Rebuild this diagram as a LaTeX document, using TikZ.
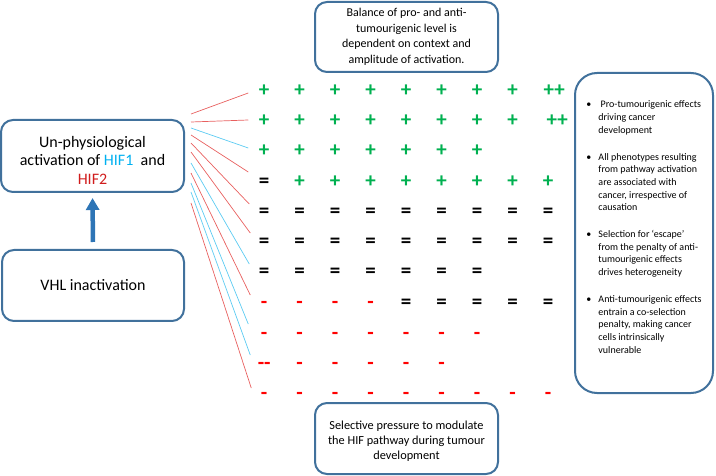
\documentclass[tikz,border=0pt]{standalone}
\usepackage{fontspec}
\setmainfont{Carlito}
\usetikzlibrary{arrows.meta, positioning, calc}

\definecolor{boxblue}{HTML}{41719C}
\definecolor{arrowblue}{HTML}{2E75B6}
\definecolor{plusgreen}{HTML}{00B050}
\definecolor{minusred}{HTML}{FF0000}
\definecolor{hifone}{HTML}{00B0F0}
\definecolor{hiftwo}{HTML}{D01C1C}
\definecolor{linkred}{HTML}{E8605F}
\definecolor{linkblue}{HTML}{5CCBF2}

\newcommand{\symp}{\makebox[35.5pt]{\color{plusgreen}+}}
\newcommand{\sympp}[1]{\makebox[35.5pt]{\hspace{#1}\color{plusgreen}++}}
\newcommand{\syme}{\makebox[35.5pt]{=}}
\newcommand{\symm}{\makebox[35.5pt]{\color{minusred}-}}

\tikzset{
  roundbox/.style={draw=boxblue, line width=2pt, rounded corners=12pt, align=center, inner sep=0pt},
  symrow/.style={anchor=west, inner sep=0pt, font=\fontsize{21}{24}\selectfont\bfseries},
  redlink/.style={draw=linkred, line width=0.7pt},
  bluelink/.style={draw=linkblue, line width=0.7pt},
}

\begin{document}
\begin{tikzpicture}[x=1pt, y=-1pt]
		\useasboundingbox (0,0) rectangle (716,476);
		\draw (92.5,156) node[roundbox, minimum width=183pt, minimum height=72pt, font=\fontsize{16}{18.5}\selectfont] (hif) {\rule{0pt}{20pt}Un-physiological\\ activation of {\color{hifone}HIF1}\ \ and\\ {\color{hiftwo}HIF2}}
		(93,285.5) node[roundbox, minimum width=182pt, minimum height=71pt, font=\fontsize{16}{18}\selectfont] (vhl) {VHL inactivation}
		(406.5,37) node[roundbox, minimum width=183pt, minimum height=70pt, font=\fontsize{12}{15.5}\selectfont] (balance) {Balance of pro- and anti-\\ tumourigenic level is\\ dependent on context and\\ amplitude of activation.}
		(406.5,438.5) node[roundbox, minimum width=183pt, minimum height=71pt, font=\fontsize{12.3}{15}\selectfont] (pressure) {\rule{0pt}{14pt}Selective pressure to modulate\\ the HIF pathway during tumour\\ development}
		(644,233) node[roundbox, rounded corners=22pt, minimum width=138pt, minimum height=320pt, align=left, font=\fontsize{10}{12.7}\selectfont] (effects) {\begin{tabular}{@{}l@{\hspace{7pt}}l@{}}
		\textbullet & \ Pro-tumourigenic effects\\ & driving cancer\\ & development\\[14pt]
		\textbullet & All phenotypes resulting\\ & from pathway activation\\ & are associated with\\ & cancer, irrespective of\\ & causation\\[14pt]
		\textbullet & Selection for `escape'\\ & from the penalty of anti-\\ & tumourigenic effects\\ & drives heterogeneity\\[14pt]
		\textbullet & Anti-tumourigenic effects\\ & entrain a co-selection\\ & penalty, making cancer\\ & cells intrinsically\\ & vulnerable\\[10pt]
		\end{tabular}};

		% rows of effects
		\node[symrow] (r1) at (246.25,92) {\strut\symp\symp\symp\symp\symp\symp\symp\symp\sympp{12pt}};
		\node[symrow] (r2) at (246.25,122) {\strut\symp\symp\symp\symp\symp\symp\symp\symp\sympp{18pt}};
		\node[symrow] (r3) at (246.25,152) {\strut\symp\symp\symp\symp\symp\symp\symp};
		\node[symrow] (r4) at (246.25,183) {\strut\syme\symp\symp\symp\symp\symp\symp\symp\symp};
		\node[symrow] (r5) at (246.25,213) {\strut\syme\syme\syme\syme\syme\syme\syme\syme\syme};
		\node[symrow] (r6) at (246.25,243) {\strut\syme\syme\syme\syme\syme\syme\syme\syme\syme};
		\node[symrow] (r7) at (246.25,273) {\strut\syme\syme\syme\syme\syme\syme\syme};
		\node[symrow] (r8) at (246.25,304) {\strut\symm\symm\symm\symm\syme\syme\syme\syme\syme};
		\node[symrow] (r9) at (246.25,335) {\strut\symm\symm\symm\symm\symm\symm\symm};
		\node[symrow] (r10) at (246.25,365) {\strut\makebox[35.5pt]{\color{minusred}-{}-}\symm\symm\symm\symm\symm};
		\node[symrow] (r11) at (246.25,395) {\strut\symm\symm\symm\symm\symm\symm\symm\symm\symm};

		\draw[-{Triangle[width=13pt,length=12pt]}, arrowblue, line width=4.5pt, shorten <=7pt, shorten >=5pt] (vhl.north) -- (hif.south);

		\draw[redlink] ([shift={(6pt,42pt)}]hif.east) -- ([shift={(2pt,-1pt)}]r1.west);
		\draw[redlink] ([shift={(6pt,34pt)}]hif.east) -- ([shift={(2pt,2pt)}]r2.west);
		\draw[bluelink] ([shift={(6pt,28pt)}]hif.east) -- ([shift={(2pt,4pt)}]r3.west);
		\draw[redlink] ([shift={(6pt,21pt)}]hif.east) -- ([shift={(2pt,11pt)}]r4.west);
		\draw[redlink] ([shift={(6pt,13pt)}]hif.east) -- ([shift={(3pt,9pt)}]r5.west);
		\draw[redlink] ([shift={(6pt,4pt)}]hif.east) -- ([shift={(4pt,10pt)}]r6.west);
		\draw[bluelink] ([shift={(6pt,-7pt)}]hif.east) -- ([shift={(3pt,9pt)}]r7.west);
		\draw[redlink] ([shift={(6pt,-17pt)}]hif.east) -- ([shift={(4pt,9pt)}]r8.west);
		\draw[bluelink] ([shift={(6pt,-27pt)}]hif.east) -- ([shift={(2pt,11pt)}]r9.west);
		\draw[bluelink] ([shift={(6pt,-36pt)}]hif.east) -- ([shift={(4pt,10pt)}]r10.west);
		\draw[redlink] ([shift={(6pt,-47pt)}]hif.east) -- ([shift={(5pt,7pt)}]r11.west);
\end{tikzpicture}
\end{document}
